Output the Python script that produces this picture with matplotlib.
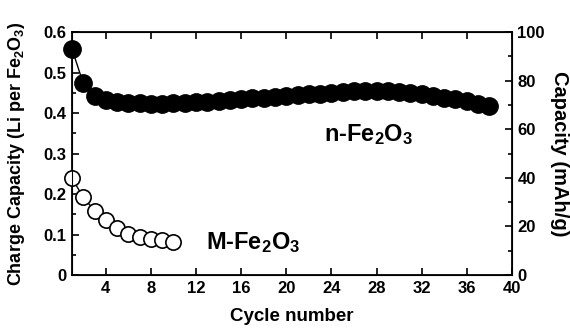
import matplotlib
matplotlib.use("Agg")
import matplotlib.pyplot as plt
from matplotlib.ticker import MultipleLocator

plt.rcParams['font.family'] = ['Liberation Sans', 'DejaVu Sans']
plt.rcParams['font.weight'] = 'bold'
plt.rcParams['mathtext.fontset'] = 'custom'
plt.rcParams['mathtext.rm'] = 'Liberation Sans:bold'
plt.rcParams['mathtext.default'] = 'rm'

n_cycles = list(range(1, 39))
n_values = [0.558, 0.473, 0.443, 0.432, 0.427, 0.425, 0.424, 0.423, 0.423, 0.424,
            0.425, 0.426, 0.428, 0.430, 0.432, 0.434, 0.436, 0.438, 0.440, 0.442,
            0.444, 0.446, 0.448, 0.450, 0.452, 0.454, 0.455, 0.455, 0.454, 0.452,
            0.449, 0.446, 0.442, 0.438, 0.434, 0.429, 0.423, 0.417]
m_cycles = list(range(1, 11))
m_values = [0.239, 0.192, 0.159, 0.136, 0.115, 0.101, 0.093, 0.089, 0.086, 0.081]
x_ticks = [4, 8, 12, 16, 20, 24, 28, 32, 36, 40]
left_ticks = [0, 0.1, 0.2, 0.3, 0.4, 0.5, 0.6]
left_labels = ['0', '0.1', '0.2', '0.3', '0.4', '0.5', '0.6']
right_ticks = [0, 20, 40, 60, 80, 100]

fig = plt.figure(figsize=(5.70, 3.29), dpi=100)
ax = fig.add_axes([0.1263, 0.164, 0.7717, 0.7387])

ax.plot(n_cycles, n_values, '-', color='black', lw=1, marker='o', ms=12.5,
        mfc='black', mec='black', clip_on=False, zorder=3)
ax.plot(m_cycles, m_values, '-', color='black', lw=1, marker='o', ms=11,
        mfc='white', mec='black', mew=1.2, clip_on=False, zorder=3)

ax.set_xlim(1, 40)
ax.set_ylim(0, 0.6)
ax.set_xticks(x_ticks)
ax.set_yticks(left_ticks)
ax.set_yticklabels(left_labels)
ax.yaxis.set_minor_locator(MultipleLocator(0.05))
ax.tick_params(axis='both', which='both', direction='in', top=True, labelsize=12, width=1.2)
ax.tick_params(axis='both', which='major', length=5, pad=4)
ax.tick_params(axis='both', which='minor', length=3)
for s in ax.spines.values():
    s.set_linewidth(1.3)

ax.set_xlabel('Cycle number', fontsize=13.5, fontweight='bold', labelpad=9)
ax.set_ylabel('Charge Capacity (Li per Fe$_2$O$_3$)', fontsize=13, fontweight='bold', labelpad=12)

ax2 = ax.twinx()
ax2.set_ylim(0, 100)
ax2.set_yticks(right_ticks)
ax2.yaxis.set_minor_locator(MultipleLocator(10))
ax2.tick_params(axis='y', which='both', direction='in', labelsize=12, width=1.2)
ax2.tick_params(axis='y', which='major', length=5, pad=4)
ax2.tick_params(axis='y', which='minor', length=3)
ax2.set_ylabel('Capacity (mAh/g)', fontsize=14.5, fontweight='bold', rotation=270, labelpad=17)

ax.text(27.3, 0.346, 'n-Fe$_2$O$_3$', fontsize=17, fontweight='bold', ha='center', va='center')
ax.text(17.1, 0.08, 'M-Fe$_2$O$_3$', fontsize=17, fontweight='bold', ha='center', va='center')

fig.savefig('out.png', dpi=100)
